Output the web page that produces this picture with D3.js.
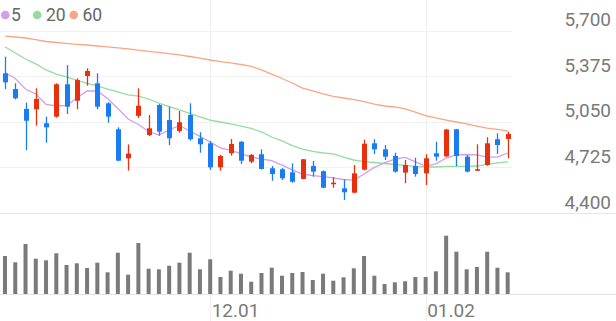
<!DOCTYPE html>
<html>
<head>
<meta charset="utf-8">
<title>Candlestick</title>
<script src="https://d3js.org/d3.v7.min.js"></script>
<style>
  body { margin: 0; background: #fff; font-family: Roboto, "Noto Sans", sans-serif; }
  svg { display: block; }
</style>
</head>
<body>
<div id="chart"></div>
<script>
// daily candles, oldest first
const open  = [5396,5284,5142,5140,5040,5087,5318,5201,5377,5325,5182,4997,4790,5093,4956,5170,5063,4985,5099,4933,
               4897,4726,4826,4908,4766,4819,4719,4712,4690,4643,4735,4698,4607,4576,4545,4709,4897,4854,4807,4688,
               4735,4683,4826,4804,4997,4802,4702,4742,4926,4928];
const high  = [5515,5325,5187,5289,5087,5325,5455,5361,5432,5396,5190,5011,4889,5289,5099,5177,5158,5127,5182,4976,
               4913,4814,4928,4913,4821,4854,4735,4721,4754,4785,4771,4703,4655,4640,4742,4923,4926,4885,4830,4778,
               4794,4819,4908,5000,5000,4814,4890,4940,4968,4980];
const low   = [5284,5210,4849,5023,4901,5080,5106,5140,5308,5140,5044,4770,4703,5078,4949,4951,4885,4973,4916,4830,
               4707,4702,4809,4750,4754,4710,4630,4635,4616,4640,4659,4577,4580,4493,4540,4705,4821,4778,4688,4612,
               4659,4600,4773,4800,4735,4690,4700,4737,4821,4790];
const close = [5332,5218,5058,5213,5011,5318,5158,5348,5413,5158,5087,4773,4824,5165,5004,4980,4933,5047,4926,4890,
               4726,4807,4892,4773,4814,4714,4678,4648,4623,4783,4695,4580,4616,4548,4683,4894,4854,4802,4695,4742,
               4678,4790,4802,4995,4807,4695,4712,4897,4885,4963];
const volume = [380,317,500,353,337,407,290,307,260,313,217,413,193,510,253,247,283,313,413,247,
                347,170,233,203,123,210,263,183,210,220,140,203,133,167,257,380,183,100,117,127,
                170,170,227,583,423,247,270,423,263,217];

// moving averages as drawn
const ma5  = [5402,5359,5284,5249,5174,5163,5167,5220,5270,5270,5217,5145,5070,5031,4981,4956,4992,5024,4985,4946,
              4906,4864,4846,4824,4799,4785,4774,4742,4707,4678,4667,4660,4650,4639,4635,4678,4725,4757,4785,4796,
              4764,4735,4750,4792,4814,4817,4814,4799,4799,4828];
const ma20 = [5586,5541,5498,5463,5420,5391,5370,5348,5324,5306,5284,5263,5242,5234,5213,5184,5159,5135,5111,5085,
              5063,5049,5035,5020,5003,4978,4942,4914,4881,4856,4839,4828,4821,4799,4778,4767,4760,4753,4746,4739,
              4732,4728,4728,4732,4732,4732,4735,4746,4757,4764];
const ma60 = [5662,5655,5648,5637,5623,5616,5609,5603,5598,5591,5584,5577,5570,5562,5552,5545,5537,5527,5516,5505,
              5491,5480,5470,5459,5445,5420,5391,5359,5327,5291,5270,5249,5231,5220,5209,5195,5177,5163,5156,5142,
              5120,5095,5078,5063,5049,5035,5020,5006,4996,4985];

const priceTicks = [4400, 4725, 5050, 5375, 5700];
const dateTickIndex = [20, 41];
const dateTickLabels = ["12.01", "01.02"];
const maNames = ["5", "20", "60"];
const maColors = ["#d49cee", "#94dca0", "#f7a783"];

const width = 616, height = 321;
const upColor = "#e8300e", downColor = "#1a7cf2";

const svg = d3.select("#chart").append("svg")
  .attr("width", width)
  .attr("height", height);

const idx = d3.range(close.length);

const x = d3.scalePoint()
  .domain(idx)
  .range([5, 507.7]);

const y = d3.scaleLinear()
  .domain([4400, 5700])
  .range([213, 30.7]);

const yVol = d3.scaleLinear()
  .domain([0, 640])
  .range([294, 230]);

// vertical grid at month ticks
svg.append("g")
  .selectAll("line")
  .data(dateTickIndex)
  .join("line")
  .attr("x1", d => Math.round(x(d)) + 0.5)
  .attr("x2", d => Math.round(x(d)) + 0.5)
  .attr("y1", 0)
  .attr("y2", height)
  .attr("stroke", "#efefef");

// horizontal price grid
svg.append("g")
  .selectAll("line")
  .data(priceTicks)
  .join("line")
  .attr("x1", 0)
  .attr("x2", d => d === 4400 ? width : 512)
  .attr("y1", d => Math.round(y(d)) + 0.5)
  .attr("y2", d => Math.round(y(d)) + 0.5)
  .attr("stroke", d => d === 4400 ? "#e6e6e6" : "#f1f1f1");

// price labels, right aligned above each line
svg.append("g")
  .selectAll("text")
  .data(priceTicks)
  .join("text")
  .attr("x", 611)
  .attr("y", d => y(d) - 4.5)
  .attr("text-anchor", "end")
  .attr("font-size", 19)
  .attr("fill", "#7a7a7a")
  .text(d => d3.format(",")(d));

// volume baseline
svg.append("line")
  .attr("x1", 0).attr("x2", width)
  .attr("y1", 294.5).attr("y2", 294.5)
  .attr("stroke", "#e4e4e4");

// date labels
svg.append("g")
  .selectAll("text")
  .data(dateTickIndex)
  .join("text")
  .attr("x", d => x(d) + 1.5)
  .attr("y", 316.5)
  .attr("font-size", 19)
  .attr("fill", "#7a7a7a")
  .text((d, i) => dateTickLabels[i]);

// volume bars
svg.append("g")
  .selectAll("rect")
  .data(idx)
  .join("rect")
  .attr("x", i => x(i) - 2)
  .attr("width", 4)
  .attr("y", i => yVol(volume[i]))
  .attr("height", i => yVol(0) - yVol(volume[i]))
  .attr("fill", "#7a7a7a");

// moving averages
[ma60, ma20, ma5].forEach((series, k) => {
  const color = maColors[2 - k];
  svg.append("path")
    .datum(series)
    .attr("fill", "none")
    .attr("stroke", color)
    .attr("stroke-width", 1.3)
    .attr("d", d3.line().x((d, i) => x(i)).y(d => y(d)));
});

// candles
const candle = svg.append("g")
  .selectAll("g")
  .data(idx)
  .join("g");

candle.append("line")
  .attr("x1", i => Math.round(x(i)) + 0.5)
  .attr("x2", i => Math.round(x(i)) + 0.5)
  .attr("y1", i => y(high[i]))
  .attr("y2", i => y(low[i]))
  .attr("stroke", i => close[i] >= open[i] ? upColor : downColor)
  .attr("stroke-width", 1.3);

candle.append("rect")
  .attr("x", i => Math.round(x(i)) - 2)
  .attr("width", 5)
  .attr("y", i => y(Math.max(open[i], close[i])))
  .attr("height", i => Math.max(1.5, Math.abs(y(open[i]) - y(close[i]))))
  .attr("fill", i => close[i] >= open[i] ? upColor : downColor);

// legend
const legend = svg.append("g");
const dotX = [5.3, 37.2, 73.7];
const labelX = [11, 46, 82.5];
maNames.forEach((name, k) => {
  legend.append("circle")
    .attr("cx", dotX[k])
    .attr("cy", 15)
    .attr("r", 4.3)
    .attr("fill", maColors[k]);
  legend.append("text")
    .attr("x", labelX[k])
    .attr("y", 21.3)
    .attr("font-size", 17.5)
    .attr("fill", "#666")
    .text(name);
});
</script>
</body>
</html>
